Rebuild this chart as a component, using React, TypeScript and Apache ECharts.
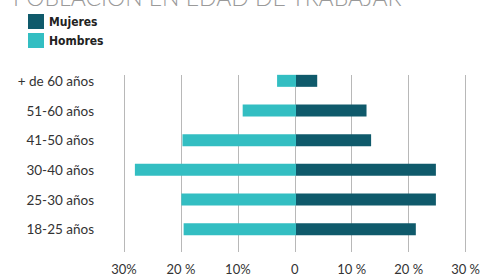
import React, { useEffect, useRef } from "react";
import * as echarts from "echarts";

const categories = ["+ de 60 años", "51-60 años", "41-50 años", "30-40 años", "25-30 años", "18-25 años"];
const hombres = [3.3, 9.3, 19.8, 28.1, 20.0, 19.6];
const mujeres = [3.7, 12.3, 13.1, 24.4, 24.4, 20.9];
const tickValues = [-30, -20, -10, 0, 10, 20, 30];
const tickLabels = ["30%", "20 %", "10%", "0", "10 %", "20 %", "30 %"];
const title = "POBLACIÓN EN EDAD DE TRABAJAR";

export default function App() {
  const ref = useRef<HTMLDivElement>(null);
  useEffect(() => {
    if (!ref.current) return;
    const chart = echarts.init(ref.current, undefined, { renderer: "svg" });
    const fmt = (v: number) => {
      const i = tickValues.indexOf(Math.round(v));
      return i >= 0 ? tickLabels[i] : "";
    };
    chart.setOption({
      animation: false,
      title: {
        text: title,
        left: 8,
        top: -20,
        textStyle: { fontFamily: "Lato", fontWeight: 300, fontSize: 23, color: "#9a9a9a" },
      },
      legend: {
        data: ["Mujeres", "Hombres"],
        orient: "vertical",
        left: 23,
        top: 9,
        itemWidth: 16,
        itemHeight: 15,
        itemGap: 4,
        icon: "rect",
        textStyle: { fontFamily: "'DejaVu Sans Condensed', Roboto, sans-serif", fontWeight: "bold", fontSize: 12, color: "#222" },
      },
      grid: [
        { left: 124, right: 15, top: 66, height: 178 },
        { left: 124, right: 15, top: 75, height: 178 },
      ],
      xAxis: [
        { type: "value", gridIndex: 0, min: -30, max: 30, interval: 10, show: false },
        {
          type: "value",
          gridIndex: 1,
          min: -30,
          max: 30,
          interval: 10,
          axisLine: { show: false },
          axisTick: { show: false },
          splitLine: { show: true, lineStyle: { color: "#b8b8b8", width: 1 } },
          axisLabel: { formatter: fmt, margin: 10, fontFamily: "Lato", fontSize: 13, color: "#333" },
        },
      ],
      yAxis: [
        {
          type: "category",
          gridIndex: 0,
          data: categories,
          inverse: true,
          axisLine: { show: false },
          axisTick: { show: false },
          axisLabel: { margin: 30, fontFamily: "Lato", fontSize: 13.5, color: "#333" },
        },
        { type: "category", gridIndex: 1, data: categories, show: false },
      ],
      series: [
        {
          name: "Hombres",
          type: "bar",
          stack: "total",
          xAxisIndex: 0,
          yAxisIndex: 0,
          barWidth: 12,
          data: hombres.map((v) => -v),
          itemStyle: { color: "#33bec2" },
        },
        {
          name: "Mujeres",
          type: "bar",
          stack: "total",
          xAxisIndex: 0,
          yAxisIndex: 0,
          barWidth: 12,
          data: mujeres,
          itemStyle: { color: "#0f5a6b" },
        },
      ],
    });
    return () => chart.dispose();
  }, []);
  return <div ref={ref} style={{ width: 483, height: 275, position: "absolute", left: 0, top: 0 }} />;
}
